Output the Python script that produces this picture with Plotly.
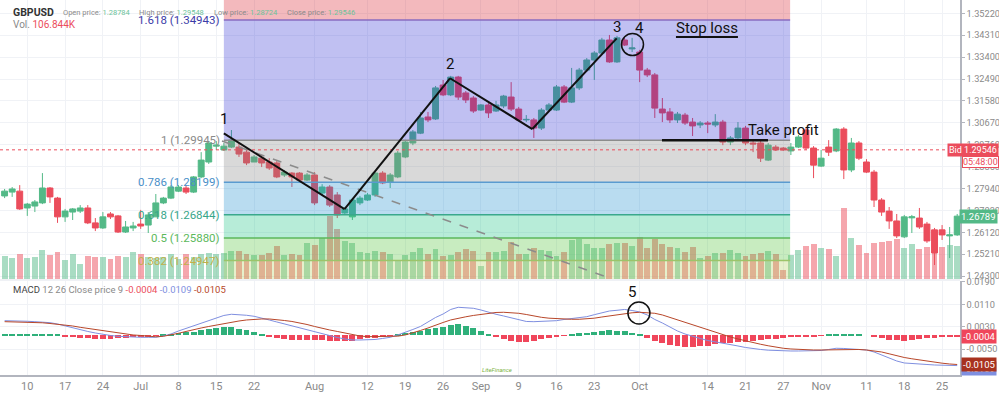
import pandas as pd
import plotly.graph_objects as go

# ---------------- data ----------------
# daily bars (forex); the DST shift produces one extra bar dated Sunday 27 Oct
dates = list(pd.bdate_range("2019-06-05", "2019-11-27").strftime("%Y-%m-%d"))
dates.insert(dates.index("2019-10-28"), "2019-10-27")

open_ = [1.2763, 1.2779, 1.2783, 1.2713, 1.2721, 1.2734, 1.2796, 1.2754, 1.2676, 1.2696,
         1.2700, 1.2713, 1.2651, 1.2630, 1.2688, 1.2680, 1.2613, 1.2630, 1.2646, 1.2642,
         1.2676, 1.2734, 1.2754, 1.2783, 1.2796, 1.2779, 1.2842, 1.2904, 1.2970, 1.2954,
         1.2966, 1.2966, 1.2945, 1.2904, 1.2920, 1.2904, 1.2900, 1.2850, 1.2858, 1.2858,
         1.2829, 1.2850, 1.2775, 1.2800, 1.2767, 1.2692, 1.2676, 1.2734, 1.2746, 1.2767,
         1.2858, 1.2821, 1.2842, 1.2925, 1.2983, 1.3024, 1.3091, 1.3083, 1.3224, 1.3183,
         1.3257, 1.3191, 1.3170, 1.3120, 1.3141, 1.3116, 1.3137, 1.3174, 1.3124, 1.3079,
         1.3079, 1.3045, 1.3120, 1.3120, 1.3216, 1.3153, 1.3212, 1.3286, 1.3328, 1.3357,
         1.3411, 1.3320, 1.3411, 1.3374, 1.3361, 1.3286, 1.3266, 1.3124, 1.3112, 1.3079,
         1.3099, 1.3070, 1.3058, 1.3066, 1.3058, 1.3070, 1.2987, 1.3004, 1.3045, 1.2983,
         1.2983, 1.2912, 1.2966, 1.2962, 1.2950, 1.2966, 1.3037, 1.2962, 1.2887, 1.2966,
         1.2950, 1.3041, 1.2871, 1.2983, 1.2904, 1.2862, 1.2746, 1.2700, 1.2659, 1.2593,
         1.2672, 1.2671, 1.2646, 1.2622, 1.2622, 1.2597, 1.2601]
high = [1.2792, 1.2800, 1.2808, 1.2734, 1.2746, 1.2858, 1.2800, 1.2759, 1.2709, 1.2713,
        1.2725, 1.2725, 1.2671, 1.2696, 1.2696, 1.2684, 1.2659, 1.2655, 1.2705, 1.2696,
        1.2771, 1.2759, 1.2808, 1.2808, 1.2808, 1.2846, 1.2945, 1.2991, 1.2991, 1.2983,
        1.3037, 1.2983, 1.2954, 1.2933, 1.2933, 1.2920, 1.2908, 1.2871, 1.2862, 1.2862,
        1.2858, 1.2862, 1.2812, 1.2808, 1.2779, 1.2717, 1.2754, 1.2763, 1.2775, 1.2866,
        1.2866, 1.2858, 1.2950, 1.2995, 1.3037, 1.3112, 1.3112, 1.3220, 1.3245, 1.3262,
        1.3262, 1.3199, 1.3178, 1.3145, 1.3149, 1.3158, 1.3183, 1.3236, 1.3133, 1.3099,
        1.3087, 1.3128, 1.3149, 1.3224, 1.3224, 1.3295, 1.3295, 1.3336, 1.3365, 1.3420,
        1.3432, 1.3428, 1.3420, 1.3420, 1.3370, 1.3295, 1.3274, 1.3170, 1.3128, 1.3112,
        1.3108, 1.3087, 1.3074, 1.3074, 1.3103, 1.3079, 1.3012, 1.3070, 1.3054, 1.2999,
        1.2995, 1.2983, 1.2974, 1.2966, 1.2983, 1.3016, 1.3045, 1.2970, 1.2954, 1.2995,
        1.3045, 1.3049, 1.3004, 1.2991, 1.2916, 1.2871, 1.2754, 1.2717, 1.2688, 1.2684,
        1.2684, 1.2713, 1.2655, 1.2630, 1.2642, 1.2634, 1.2688]
low = [1.2754, 1.2759, 1.2705, 1.2680, 1.2696, 1.2729, 1.2734, 1.2651, 1.2655, 1.2663,
       1.2692, 1.2646, 1.2617, 1.2626, 1.2667, 1.2609, 1.2609, 1.2617, 1.2626, 1.2609,
       1.2676, 1.2729, 1.2750, 1.2779, 1.2771, 1.2775, 1.2837, 1.2896, 1.2954, 1.2950,
       1.2962, 1.2925, 1.2891, 1.2904, 1.2883, 1.2871, 1.2837, 1.2842, 1.2800, 1.2825,
       1.2825, 1.2725, 1.2767, 1.2717, 1.2671, 1.2684, 1.2663, 1.2725, 1.2742, 1.2759,
       1.2812, 1.2796, 1.2837, 1.2920, 1.2974, 1.3020, 1.3070, 1.3079, 1.3178, 1.3178,
       1.3162, 1.3149, 1.3108, 1.3116, 1.3087, 1.3112, 1.3128, 1.3116, 1.3074, 1.3070,
       1.3004, 1.3037, 1.3116, 1.3116, 1.3149, 1.3149, 1.3203, 1.3278, 1.3245, 1.3349,
       1.3316, 1.3316, 1.3386, 1.3361, 1.3236, 1.3257, 1.3087, 1.3070, 1.3066, 1.3066,
       1.3058, 1.3012, 1.3045, 1.3024, 1.3049, 1.2974, 1.2974, 1.2995, 1.2974, 1.2945,
       1.2904, 1.2908, 1.2950, 1.2950, 1.2933, 1.2962, 1.2954, 1.2837, 1.2883, 1.2929,
       1.2945, 1.2833, 1.2862, 1.2912, 1.2858, 1.2717, 1.2680, 1.2626, 1.2588, 1.2588,
       1.2609, 1.2626, 1.2568, 1.2476, 1.2580, 1.2505, 1.2597]
close = [1.2783, 1.2792, 1.2709, 1.2729, 1.2738, 1.2796, 1.2759, 1.2676, 1.2700, 1.2709,
         1.2713, 1.2651, 1.2630, 1.2676, 1.2676, 1.2613, 1.2634, 1.2638, 1.2638, 1.2684,
         1.2734, 1.2754, 1.2800, 1.2800, 1.2779, 1.2842, 1.2912, 1.2983, 1.2974, 1.2970,
         1.2995, 1.2937, 1.2900, 1.2925, 1.2900, 1.2879, 1.2842, 1.2862, 1.2842, 1.2829,
         1.2850, 1.2734, 1.2800, 1.2725, 1.2684, 1.2709, 1.2746, 1.2754, 1.2767, 1.2858,
         1.2817, 1.2850, 1.2941, 1.2987, 1.3029, 1.3087, 1.3079, 1.3212, 1.3183, 1.3257,
         1.3174, 1.3162, 1.3116, 1.3141, 1.3108, 1.3141, 1.3178, 1.3124, 1.3079, 1.3081,
         1.3045, 1.3120, 1.3141, 1.3216, 1.3153, 1.3212, 1.3286, 1.3328, 1.3357, 1.3411,
         1.3320, 1.3420, 1.3390, 1.3378, 1.3286, 1.3266, 1.3128, 1.3108, 1.3079, 1.3103,
         1.3066, 1.3054, 1.3066, 1.3062, 1.3070, 1.2987, 1.3004, 1.3045, 1.2983, 1.2979,
         1.2920, 1.2974, 1.2954, 1.2954, 1.2966, 1.3008, 1.2962, 1.2891, 1.2920, 1.2945,
         1.3041, 1.2871, 1.2983, 1.2920, 1.2862, 1.2746, 1.2696, 1.2659, 1.2597, 1.2676,
         1.2676, 1.2634, 1.2576, 1.2526, 1.2601, 1.2601, 1.2679]
volume_k = [34.5, 31.5, 37.5, 31.5, 33, 43.5, 36, 40.5, 28.5, 37.5,
            22.5, 34.5, 33, 33, 30, 34.5, 33, 40.5, 37.5, 33,
            31.5, 33, 37.5, 30, 37.5, 33, 37.5, 39, 37.5, 39,
            42, 42, 37.5, 36, 36, 39, 49.5, 36, 37.5, 36,
            54, 51, 61.5, 94.5, 75, 57, 54, 40.5, 39, 42,
            40.5, 37.5, 28.5, 36, 40.5, 46.5, 37.5, 45, 34.5, 36,
            40.5, 45, 42, 19.5, 40.5, 40.5, 42, 55.5, 37.5, 37.5,
            46.5, 43.5, 42, 34.5, 40.5, 58.5, 60, 52.5, 46.5, 46.5,
            52.5, 54, 54, 49.5, 63, 46.5, 60, 52.5, 48, 46.5,
            40.5, 48, 31.5, 34.5, 39, 39, 43.5, 39, 34.5, 37.5,
            39, 42, 37.5, 13.5, 36, 43.5, 49.5, 52.5, 46.5, 45,
            34.5, 106.5, 61.5, 51, 39, 54, 55.5, 57, 60, 46.5,
            52.5, 45, 48, 48, 48, 51, 49.5]
macd_line = [0.00514, 0.00514, 0.00503, 0.00493, 0.00478, 0.00468, 0.00443, 0.00396, 0.00325, 0.00253,
             0.00182, 0.00129, 0.00075, 0.00021, -0.00014, -0.00043, -0.00061, -0.00075, -0.00079, -0.00079,
             -0.00079, -0.00032, 0.00039, 0.00146, 0.00236, 0.00325, 0.00432, 0.00521, 0.00610, 0.00700,
             0.00743, 0.00735, 0.00707, 0.00671, 0.00593, 0.00539, 0.00468, 0.00396, 0.00325, 0.00271,
             0.00200, 0.00129, 0.00057, -0.00014, -0.00086, -0.00139, -0.00175, -0.00175, -0.00175, -0.00157,
             -0.00121, -0.00079, 0.00004, 0.00093, 0.00200, 0.00307, 0.00468, 0.00628, 0.00753, 0.00914,
             0.00992, 0.00985, 0.00957, 0.00896, 0.00814, 0.00743, 0.00682, 0.00610, 0.00539, 0.00486,
             0.00478, 0.00493, 0.00503, 0.00514, 0.00557, 0.00593, 0.00628, 0.00657, 0.00728, 0.00800,
             0.00860, 0.00885, 0.00914, 0.00878, 0.00825, 0.00718, 0.00557, 0.00432, 0.00289, 0.00146,
             0.00039, -0.00050, -0.00121, -0.00193, -0.00236, -0.00282, -0.00336, -0.00389, -0.00443, -0.00486,
             -0.00514, -0.00539, -0.00557, -0.00568, -0.00568, -0.00568, -0.00568, -0.00568, -0.00550, -0.00514,
             -0.00471, -0.00478, -0.00496, -0.00507, -0.00532, -0.00603, -0.00711, -0.00835, -0.00925, -0.00996,
             -0.01021, -0.01032, -0.01050, -0.01068, -0.01078, -0.01085, -0.01089]
signal_line = [0.00478, 0.00475, 0.00468, 0.00461, 0.00450, 0.00439, 0.00414, 0.00386, 0.00361, 0.00325,
               0.00278, 0.00236, 0.00200, 0.00154, 0.00111, 0.00068, 0.00029, 0.00004, -0.00014, -0.00043,
               -0.00061, -0.00043, 0.00004, 0.00064, 0.00129, 0.00200, 0.00253, 0.00307, 0.00361, 0.00414,
               0.00468, 0.00503, 0.00539, 0.00564, 0.00575, 0.00575, 0.00557, 0.00521, 0.00486, 0.00443,
               0.00378, 0.00307, 0.00236, 0.00182, 0.00129, 0.00075, 0.00021, -0.00032, -0.00057, -0.00057,
               -0.00057, -0.00050, -0.00039, 0.00004, 0.00075, 0.00164, 0.00253, 0.00361, 0.00450, 0.00539,
               0.00610, 0.00653, 0.00700, 0.00743, 0.00778, 0.00807, 0.00814, 0.00807, 0.00778, 0.00735,
               0.00682, 0.00635, 0.00603, 0.00585, 0.00575, 0.00564, 0.00564, 0.00575, 0.00603, 0.00646,
               0.00689, 0.00728, 0.00771, 0.00796, 0.00814, 0.00807, 0.00778, 0.00718, 0.00628, 0.00539,
               0.00450, 0.00361, 0.00271, 0.00182, 0.00086, 0.00004, -0.00068, -0.00139, -0.00211, -0.00271,
               -0.00328, -0.00382, -0.00432, -0.00471, -0.00496, -0.00514, -0.00525, -0.00532, -0.00532, -0.00525,
               -0.00514, -0.00507, -0.00507, -0.00514, -0.00532, -0.00561, -0.00603, -0.00668, -0.00746, -0.00800,
               -0.00846, -0.00889, -0.00932, -0.00971, -0.01003, -0.01032, -0.01050]
histogram = [m - s for m, s in zip(macd_line, signal_line)]

tick_dates = ["2019-06-10", "2019-06-17", "2019-06-24", "2019-07-01", "2019-07-08", "2019-07-15",
              "2019-07-22", "2019-08-01", "2019-08-12", "2019-08-19", "2019-08-26", "2019-09-02",
              "2019-09-09", "2019-09-16", "2019-09-23", "2019-10-01", "2019-10-14", "2019-10-21",
              "2019-10-27", "2019-11-01", "2019-11-11", "2019-11-18", "2019-11-25"]
tick_text = ["10", "17", "24", "Jul", "8", "15", "22", "Aug", "12", "19", "26", "Sep",
             "9", "16", "23", "Oct", "14", "21", "27", "Nov", "11", "18", "25"]
price_ticks = [1.35220, 1.34310, 1.33400, 1.32490, 1.31580, 1.30670, 1.29760,
               1.28850, 1.27940, 1.27030, 1.26120, 1.25210, 1.24300]
macd_ticks = [0.0190, 0.0110, 0.0030, -0.0050]
macd_tick_text = ["0.0190", "0.0110", "0.0030", "-0.0050"]

fib_ratios = ["1.618", "1", "0.786", "0.618", "0.5", "0.382"]
fib_prices = [1.34943, 1.29945, 1.28199, 1.26844, 1.25880, 1.24947]
fib_line_colors = ["#8a6cc0", "#8c8c8c", "#5a9bd0", "#3aa88c", "#5cb85c", "#9cc46a"]
fib_text_colors = ["#3c3ca8", "#8a8a8a", "#4a8fc8", "#37a58a", "#5cb85c", "#c2b04a"]
fib_zone_colors = ["rgba(215,22,35,0.30)", "rgba(45,45,212,0.30)", "rgba(129,129,129,0.30)",
                   "rgba(22,138,205,0.30)", "rgba(18,192,125,0.30)", "rgba(72,192,45,0.30)",
                   "rgba(172,205,85,0.30)"]
fib_x = [29.0, 103.9]          # bar positions spanned by the retracement box

wave_points = [(29.0, 1.3023), (44.96, 1.2708), (58.91, 1.3252), (69.8, 1.3041), (80.96, 1.3418)]
wave_labels = [("1", 29.0, 1.3083), ("2", 58.9, 1.3310), ("3", 80.96, 1.3464), ("4", 83.95, 1.3460)]
trend_dash = [(28.75, 1.2991), (80.34, 1.2418)]
bid_price = 1.29546
last_price = 1.26789

# ---------------- figure ----------------
PRICE_RANGE = [1.24178, 1.35773]
MACD_RANGE = [-0.01425, 0.01931]
X_RANGE = [-0.61, 126.37]
UP, DOWN = "#53b987", "#eb4d5c"

fig = go.Figure()
vol_colors = ["rgba(83,185,135,0.5)" if c >= o else "rgba(235,77,92,0.5)" for o, c in zip(open_, close)]
fig.add_trace(go.Bar(x=dates, y=volume_k, width=0.78, marker=dict(color=vol_colors, line=dict(width=0)),
                     xaxis="x2", yaxis="y2", hoverinfo="skip"))
fig.add_trace(go.Candlestick(x=dates, open=open_, high=high, low=low, close=close,
                             xaxis="x2", yaxis="y3", whiskerwidth=0,
                             increasing=dict(line=dict(color=UP, width=1), fillcolor=UP),
                             decreasing=dict(line=dict(color=DOWN, width=1), fillcolor=DOWN)))
hist_colors = ["#2fb07a" if h >= 0 else "#f0465b" for h in histogram]
fig.add_trace(go.Bar(x=dates, y=histogram, width=0.78, marker=dict(color=hist_colors, line=dict(width=0)),
                     xaxis="x", yaxis="y"))
fig.add_trace(go.Scatter(x=dates, y=macd_line, mode="lines", line=dict(color="#7f8fe0", width=1),
                         xaxis="x", yaxis="y"))
fig.add_trace(go.Scatter(x=dates, y=signal_line, mode="lines", line=dict(color="#b8472a", width=1),
                         xaxis="x", yaxis="y"))

shapes = []
bounds = [PRICE_RANGE[1]] + fib_prices + [PRICE_RANGE[0]]
for i, col in enumerate(fib_zone_colors):
    shapes.append(dict(type="rect", xref="x2", yref="y3", x0=fib_x[0], x1=fib_x[1],
                       y0=bounds[i + 1], y1=bounds[i], fillcolor=col, line=dict(width=0), layer="above"))
for p, col in zip(fib_prices, fib_line_colors):
    shapes.append(dict(type="line", xref="x2", yref="y3", x0=fib_x[0], x1=fib_x[1], y0=p, y1=p,
                       line=dict(color=col, width=1.5), layer="above"))
shapes.append(dict(type="line", xref="paper", yref="y3", x0=0, x1=1, y0=bid_price, y1=bid_price,
                   line=dict(color=DOWN, width=1, dash="dot"), layer="above"))
shapes.append(dict(type="line", xref="x2", yref="y3", x0=trend_dash[0][0], y0=trend_dash[0][1],
                   x1=trend_dash[1][0], y1=trend_dash[1][1], line=dict(color="#8c8c8c", width=1.5, dash="dash"),
                   layer="above"))
for (xa, ya), (xb, yb) in zip(wave_points[:-1], wave_points[1:]):
    shapes.append(dict(type="line", xref="x2", yref="y3", x0=xa, y0=ya, x1=xb, y1=yb,
                       line=dict(color="#111111", width=2), layer="above"))
# stop loss underline and take-profit line
shapes.append(dict(type="line", xref="x2", yref="y3", x0=88.8, x1=97.0, y0=1.3424, y1=1.3424,
                   line=dict(color="#111111", width=2), layer="above"))
shapes.append(dict(type="line", xref="x2", yref="y3", x0=86.95, x1=100.97, y0=fib_prices[1], y1=fib_prices[1],
                   line=dict(color="#111111", width=2.5), layer="above"))
# circles
shapes.append(dict(type="circle", xref="x2", yref="y3", xsizemode="pixel", ysizemode="pixel",
                   xanchor=83.05, yanchor=1.3392, x0=-11, x1=11, y0=-11, y1=11,
                   line=dict(color="#111111", width=1.5), layer="above"))
shapes.append(dict(type="circle", xref="x", yref="y", xsizemode="pixel", ysizemode="pixel",
                   xanchor=83.9, yanchor=0.00789, x0=-11, x1=11, y0=-11, y1=11,
                   line=dict(color="#111111", width=1.5), layer="above"))
# pane separator
shapes.append(dict(type="line", xref="paper", yref="paper", x0=0, x1=1, y0=0.2533, y1=0.2533,
                   line=dict(color="#e0e3eb", width=1)))

ann = []
for r, p, col in zip(fib_ratios, fib_prices, fib_text_colors):
    ann.append(dict(x=28.75, y=p, xref="x2", yref="y3", xanchor="right", yanchor="middle",
                    text=f"{r} ({p:.5f})", showarrow=False, font=dict(size=11.5, color=col)))
for t, xv, yv in wave_labels:
    ann.append(dict(x=xv, y=yv, xref="x2", yref="y3", text=t, showarrow=False,
                    font=dict(size=15, color="#111111")))
ann.append(dict(x=83.03, y=0.0155, xref="x", yref="y", text="5", showarrow=False,
                font=dict(size=15, color="#111111")))
ann.append(dict(x=92.9, y=1.3463, xref="x2", yref="y3", text="Stop loss", showarrow=False,
                font=dict(size=15, color="#111111")))
ann.append(dict(x=103.0, y=1.3039, xref="x2", yref="y3", text="Take profit", showarrow=False,
                font=dict(size=15, color="#111111")))


def px(x, y):
    return x / 960.0, 1 - y / 375.0


def hdr(x, y, text, size, color="#8a8a8a"):
    fx, fy = px(x, y)
    ann.append(dict(x=fx, y=fy, xref="paper", yref="paper", xanchor="left", yanchor="middle",
                    text=text, showarrow=False, font=dict(size=size, color=color)))


G = "#6cc39a"
hdr(11, 12, "<b>GBPUSD</b>", 10.5, "#333333")
hdr(61, 12, f"Open price: <span style='color:{G}'>1.28784</span>", 7.5)
hdr(137, 12, f"High price: <span style='color:{G}'>1.29548</span>", 7.5)
hdr(212, 12, f"Low price: <span style='color:{G}'>1.28724</span>", 7.5)
hdr(285, 12, f"Close price: <span style='color:{G}'>1.29546</span>", 7.5)
hdr(11, 25, f"Vol. <span style='color:{DOWN}'>106.844K</span>", 10)
hdr(11, 289, "<span style='color:#444'>MACD</span> 12 26 Close price 9 "
             f"<span style='color:{DOWN}'>-0.0004</span> <span style='color:#7f8fe0'>-0.0109</span> "
             "<span style='color:#b8472a'>-0.0105</span>", 9.5)
fx, fy = px(480, 369)
ann.append(dict(x=fx, y=fy, xref="paper", yref="paper", xanchor="left", yanchor="middle",
                text="<i>LiteFinance</i>", showarrow=False, font=dict(size=6, color="#7cb342")))

# right-axis price labels
LBL = 9
ann.append(dict(x=947 / 960, y=bid_price, xref="paper", yref="y3", xanchor="left", yanchor="middle",
                text="Bid 1.29546", showarrow=False, bgcolor=DOWN, borderpad=1,
                font=dict(size=LBL, color="white")))
ann.append(dict(x=962 / 960, y=1.2904, xref="paper", yref="y3", xanchor="left", yanchor="middle",
                text="05:48:00", showarrow=False, bgcolor="white", bordercolor=DOWN, borderwidth=1,
                borderpad=0, font=dict(size=LBL, color=DOWN)))
ann.append(dict(x=959 / 960, y=last_price, xref="paper", yref="y3", xanchor="left", yanchor="middle",
                text="1.26789", showarrow=False, bgcolor=UP, borderpad=1,
                font=dict(size=LBL + 0.5, color="white")))
ann.append(dict(x=961 / 960, y=histogram[-1], xref="paper", yref="y", xanchor="left", yanchor="middle",
                text="-0.0004", showarrow=False, bgcolor="#f0465b", borderpad=1,
                font=dict(size=LBL + 0.5, color="white")))
ann.append(dict(x=961 / 960, y=macd_line[-1], xref="paper", yref="y", xanchor="left", yanchor="middle",
                yshift=-3, text="-0.0109", showarrow=False, bgcolor="#7f8fe0", borderpad=1,
                font=dict(size=LBL + 0.5, color="white")))
ann.append(dict(x=961 / 960, y=signal_line[-1], xref="paper", yref="y", xanchor="left", yanchor="middle",
                text="-0.0105", showarrow=False, bgcolor="#a8321f", borderpad=1,
                font=dict(size=LBL + 0.5, color="white")))

GRID = "#f0f2f6"
AXIS = "#b2b5be"
TICKF = dict(size=9.2, color="#8a8a8a")
fig.update_layout(
    width=999, height=393, margin=dict(l=0, r=39, t=0, b=18, autoexpand=False),
    paper_bgcolor="white", plot_bgcolor="white", showlegend=False, hovermode=False,
    barmode="overlay", bargap=0, boxgap=0.22, boxgroupgap=0,
    font=dict(family="Roboto, Arial, sans-serif", size=11, color="#888888"),
    xaxis=dict(type="category", domain=[0, 1], anchor="y", range=X_RANGE, automargin=False,
               tickvals=tick_dates, ticktext=tick_text, showgrid=True, gridcolor=GRID,
               showline=True, linecolor=AXIS, linewidth=2, ticks="",
               tickfont=dict(size=11, color="#8a8a8a"), rangeslider=dict(visible=False)),
    xaxis2=dict(type="category", domain=[0, 1], anchor="y2", matches="x", range=X_RANGE, automargin=False,
                tickvals=tick_dates, showticklabels=False, showgrid=True, gridcolor=GRID,
                showline=False, ticks="", rangeslider=dict(visible=False)),
    yaxis=dict(domain=[0, 0.2507], anchor="x", side="right", range=MACD_RANGE, automargin=False,
               tickvals=macd_ticks, ticktext=macd_tick_text, showgrid=True, gridcolor=GRID,
               showline=True, linecolor=AXIS, linewidth=1.5, ticks="outside", ticklen=3,
               tickcolor=AXIS, zeroline=False, tickfont=TICKF),
    yaxis2=dict(domain=[0.256, 1], anchor="x2", range=[0, 418.5], visible=False, automargin=False),
    yaxis3=dict(domain=[0.256, 1], anchor="x2", overlaying="y2", side="right", range=PRICE_RANGE,
                automargin=False,
                tickvals=price_ticks, tickformat=".5f", showgrid=True, gridcolor=GRID,
                showline=True, linecolor=AXIS, linewidth=1.5, ticks="outside", ticklen=3,
                tickcolor=AXIS, zeroline=False, tickfont=TICKF),
    shapes=shapes, annotations=ann,
)

fig.write_html("out.html", config={"displayModeBar": False},
               post_script="document.body.style.margin='0';document.body.style.overflow='hidden';")
